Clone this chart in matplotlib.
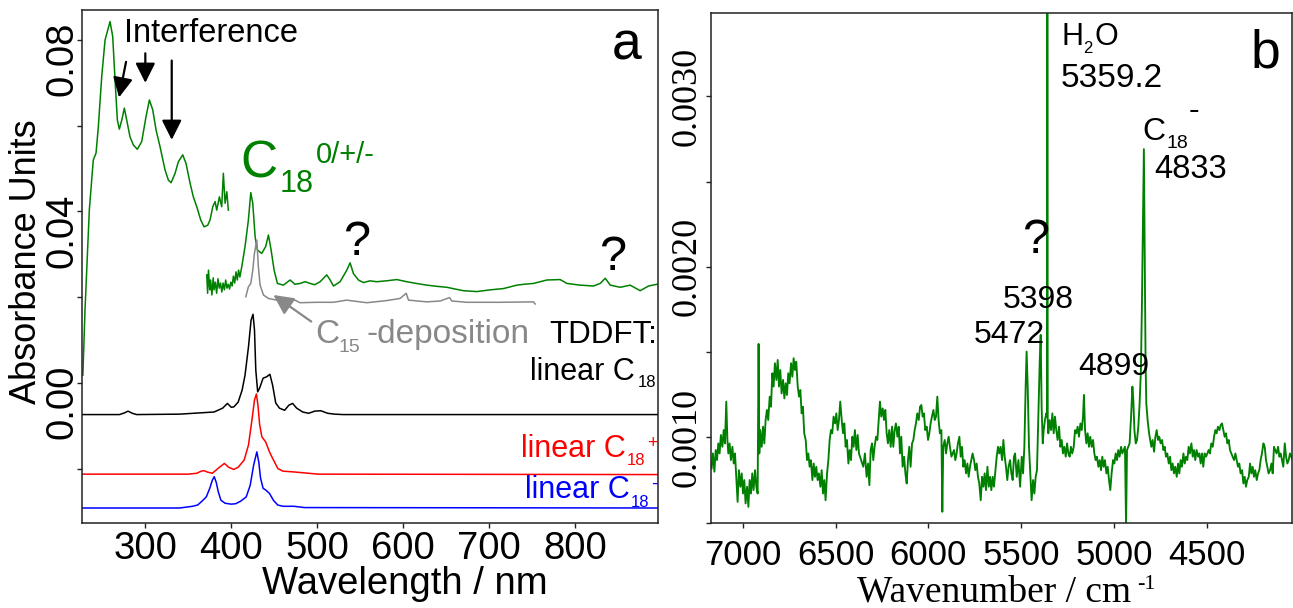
import numpy as np
import matplotlib
matplotlib.use('Agg')
import matplotlib.pyplot as plt
from matplotlib.transforms import offset_copy

SANS = 'Liberation Sans'
SERIF = 'Liberation Serif'
plt.rcParams['font.family'] = [SANS, 'DejaVu Sans']

GREEN = '#008000'
GRAY = '#888888'
RED = '#ff0000'
BLUE = '#0000ff'

# ---------------- panel a data ----------------
uv_nm = [227.5, 230, 235, 239.6, 242.8, 245.5, 249.4, 253.3, 259.1, 262.2, 264.9, 267.6, 269.9, 272.7,
         275.7, 278.5, 282.3, 286.2, 290.8, 295.9, 300.9, 304.8, 308.7, 312.6, 317.2, 323, 326.9, 330,
         334.7, 338.5, 343.6, 347.4, 352.1, 355.9, 359.9, 364.5, 368.4, 372.7, 375.3, 378.5, 381.2,
         383.1, 386.2, 388.9, 390.8, 392.8, 394.8, 396.6]
uv_abs = [0.0018, 0.0170, 0.0403, 0.0520, 0.0536, 0.0598, 0.0714, 0.0800, 0.0843, 0.0808, 0.0707,
          0.0613, 0.0592, 0.0613, 0.0641, 0.0613, 0.0574, 0.0555, 0.0545, 0.0563, 0.0621, 0.0660,
          0.0637, 0.0590, 0.0551, 0.0497, 0.0473, 0.0467, 0.0489, 0.0516, 0.0532, 0.0512, 0.0466,
          0.0434, 0.0411, 0.0380, 0.0364, 0.0368, 0.0380, 0.0411, 0.0423, 0.0403, 0.0434, 0.0411,
          0.0489, 0.0419, 0.0446, 0.0403]

vis_nm = [371.5, 372.5, 373.5, 375, 376, 377.5, 379, 380, 381.5, 383, 384.5, 386, 387.5, 389, 390.5,
          392, 393.5, 395, 396.5, 398, 399.5, 401, 402.5, 404, 405.5, 407, 408.5, 410, 412.2, 416,
          419.9, 422.7, 425, 427.7, 430.4, 435.4, 440, 443.2, 446.3, 449.8, 453.6, 460.6, 468.4, 474,
          480, 486, 491.6, 497, 503.3, 511, 514.9, 518.8, 526.5, 534.3, 538.1, 542, 547.8, 553.6, 561,
          569.1, 580, 592.4, 604, 615, 627.3, 640, 650.6, 660, 669.9, 685.5, 700.9, 716.4, 731.9, 740,
          751.3, 766.9, 782.3, 790.1, 805.6, 821, 828.8, 834.7, 840.5, 852.1, 863.7, 875.3, 885, 894.8]
vis_abs = [0.0252, 0.0209, 0.0263, 0.0217, 0.0240, 0.0205, 0.0245, 0.0217, 0.0235, 0.0209, 0.0243,
           0.0221, 0.0233, 0.0212, 0.0233, 0.0217, 0.0240, 0.0221, 0.0230, 0.0219, 0.0235, 0.0226,
           0.0249, 0.0233, 0.0259, 0.0240, 0.0263, 0.0247, 0.0271, 0.0318, 0.0380, 0.0444, 0.0419,
           0.0341, 0.0310, 0.0302, 0.0318, 0.0345, 0.0310, 0.0263, 0.0232, 0.0228, 0.0240, 0.0230,
           0.0232, 0.0236, 0.0232, 0.0229, 0.0236, 0.0252, 0.0240, 0.0226, 0.0236, 0.0263, 0.0280,
           0.0255, 0.0240, 0.0234, 0.0238, 0.0236, 0.0238, 0.0241, 0.0236, 0.0232, 0.0228, 0.0225,
           0.0223, 0.0219, 0.0215, 0.0213, 0.0217, 0.0220, 0.0228, 0.0230, 0.0232, 0.0240, 0.0241,
           0.0232, 0.0228, 0.0226, 0.0232, 0.0244, 0.0228, 0.0223, 0.0228, 0.0215, 0.0226, 0.0230]

c15_nm = [416.9, 419.9, 422.7, 425, 426.9, 429.7, 431.5, 433.5, 437.4, 443.2, 452.9, 468.4, 473, 480,
          500, 518.8, 534, 557.6, 580.8, 596.3, 603.3, 606, 627.3, 642.8, 653.7, 656.4, 673.8, 712.6,
          751.3, 753.3]
c15_abs = [0.0201, 0.0224, 0.0232, 0.0263, 0.0302, 0.0333, 0.0271, 0.0228, 0.0205, 0.0197, 0.0193,
           0.0189, 0.0194, 0.0187, 0.0188, 0.0188, 0.0193, 0.0187, 0.0192, 0.0197, 0.0209, 0.0193,
           0.0189, 0.0191, 0.0199, 0.0191, 0.0188, 0.0188, 0.0189, 0.0184]

tddft_n_nm = [227, 270, 276, 280, 285, 290, 340, 380, 390, 395.5, 400, 403, 408, 412.6, 416, 420, 423,
              425.3, 427, 428.5, 430.7, 433, 437, 441, 444.9, 448, 451.7, 456, 462, 467, 471.3, 476,
              483, 490, 497, 504, 512, 520, 530, 896]
tddft_n_abs = [-0.0074, -0.0074, -0.0070, -0.0066, -0.0071, -0.0074, -0.0073, -0.0068, -0.0059,
               -0.0048, -0.0057, -0.0056, -0.0045, -0.0017, 0.0018, 0.0084, 0.0146, 0.0160, 0.0123,
               0.0030, -0.0021, -0.0012, 0.0011, 0.0014, 0.0020, -0.0005, -0.0047, -0.0059, -0.0064,
               -0.0052, -0.0048, -0.0059, -0.0068, -0.0071, -0.0066, -0.0065, -0.0071, -0.0073,
               -0.0074, -0.0074]

tddft_p_nm = [227, 350, 360, 365, 368.5, 372, 378, 385, 392, 397, 402.8, 408, 415, 420, 424, 427,
              429.2, 431, 433, 435.6, 440, 444.4, 448, 454.2, 460, 473.7, 490, 501, 896]
tddft_p_abs = [-0.0213, -0.0213, -0.0211, -0.0206, -0.0205, -0.0208, -0.0211, -0.0199, -0.0188,
               -0.0197, -0.0202, -0.0197, -0.0180, -0.0145, -0.0087, -0.0040, -0.0026, -0.0052,
               -0.0098, -0.0126, -0.0138, -0.0161, -0.0176, -0.0200, -0.0206, -0.0208, -0.0211,
               -0.0213, -0.0214]

tddft_m_nm = [227, 340, 355, 361, 366, 371, 375, 378, 380.2, 382.5, 385, 388, 393, 400, 405.2, 411,
              417.4, 422, 426, 429.7, 432, 434, 437, 440, 444.4, 449, 454, 460, 473, 485, 896]
tddft_m_abs = [-0.0292, -0.0292, -0.0288, -0.0285, -0.0276, -0.0266, -0.0246, -0.0227, -0.0219,
               -0.0232, -0.0255, -0.0274, -0.0281, -0.0283, -0.0282, -0.0276, -0.0266, -0.0239,
               -0.0192, -0.0161, -0.0185, -0.0222, -0.0246, -0.0250, -0.0258, -0.0274, -0.0285,
               -0.0288, -0.0288, -0.0291, -0.0292]

a_xticks = [300, 400, 500, 600, 700, 800]
a_yticks = [-0.02, 0.00, 0.02, 0.04, 0.06, 0.08]
a_ylabels = ['', '0.00', '', '0.04', '', '0.08']

# ---------------- panel b data (absorbance in units of 1e-4) ----------------
b_wn = [7168, 7161, 7153, 7146, 7139, 7132, 7125, 7118, 7110, 7103,
        7096, 7089, 7083, 7078, 7071, 7064, 7056, 7049, 7042, 7035,
        7028, 7021, 7013, 7006, 6999, 6992, 6985, 6977, 6970, 6963,
        6956, 6949, 6942, 6934, 6927, 6920, 6915, 6911, 6906, 6898,
        6891, 6884, 6877, 6870, 6863, 6855, 6848, 6841, 6834, 6827,
        6819, 6812, 6805, 6798, 6791, 6783, 6776, 6769, 6762, 6755,
        6748, 6740, 6733, 6726, 6719, 6712, 6704, 6697, 6690, 6683,
        6676, 6669, 6661, 6654, 6647, 6640, 6633, 6625, 6618, 6611,
        6604, 6597, 6590, 6582, 6575, 6568, 6561, 6554, 6546, 6539,
        6532, 6525, 6518, 6511, 6503, 6496, 6489, 6482, 6475, 6467,
        6460, 6453, 6446, 6439, 6431, 6424, 6417, 6410, 6403, 6396,
        6388, 6381, 6374,
        6351, 6342, 6333, 6325, 6318, 6311, 6304, 6297, 6290, 6282,
        6275, 6268, 6261, 6254, 6246, 6239, 6232, 6225, 6218, 6211,
        6203, 6196, 6189, 6182, 6175, 6167, 6160, 6153, 6146, 6139,
        6131, 6124, 6117, 6110, 6103, 6096, 6088, 6081, 6074, 6067,
        6060, 6052, 6045, 6038, 6031, 6024, 6017, 6009, 6002, 5995,
        5988, 5981, 5973, 5966, 5959, 5952, 5945, 5938, 5930, 5925,
        5920, 5912, 5905, 5898, 5891, 5884, 5876, 5869, 5862, 5855,
        5848, 5841, 5833, 5826, 5819, 5812, 5805, 5797, 5790, 5783,
        5776, 5769, 5762, 5754, 5747, 5740, 5733, 5726, 5718, 5711,
        5704, 5697, 5690, 5682, 5675, 5668, 5661, 5654, 5647, 5639,
        5632, 5625, 5618, 5611, 5603, 5596, 5589, 5582, 5575, 5568,
        5560, 5553, 5546, 5539,
        5533, 5524, 5515, 5506, 5497, 5490, 5483, 5476, 5471, 5465,
        5458, 5451, 5444, 5436, 5429, 5422, 5415, 5408, 5400, 5395,
        5390, 5384, 5379, 5372, 5365, 5361, 5359.2, 5357, 5354, 5347,
        5339, 5332, 5325, 5318, 5311, 5304, 5296, 5289, 5282, 5275,
        5268, 5260, 5253, 5246, 5239, 5232, 5225, 5217, 5210, 5203,
        5196, 5189, 5181, 5174, 5167, 5162, 5156, 5149, 5142, 5135,
        5128, 5120, 5113, 5106, 5099, 5092, 5084, 5077, 5070, 5063,
        5056, 5049, 5041, 5034, 5027, 5020, 5013, 5005, 4998, 4991,
        4984, 4977, 4970, 4962, 4955, 4948, 4941, 4935, 4930, 4923,
        4916, 4908, 4901, 4896, 4890, 4883, 4876, 4869, 4862, 4855,
        4850, 4845, 4839, 4834, 4830, 4826, 4819, 4811,
        4799, 4792, 4784, 4777, 4770, 4763, 4756, 4749, 4741, 4734,
        4727, 4720, 4713, 4705, 4698, 4691, 4684, 4677, 4670, 4662,
        4655, 4648, 4641, 4634, 4626, 4619, 4612, 4605, 4598, 4591,
        4583, 4576, 4569, 4562, 4555, 4547, 4540, 4533, 4526, 4519,
        4512, 4504, 4497, 4490, 4483, 4476, 4468, 4461, 4454, 4447,
        4440, 4432, 4425, 4418, 4411, 4404, 4397, 4389, 4382, 4375,
        4368, 4361, 4353, 4346, 4339, 4332, 4325, 4318, 4310, 4303,
        4296, 4289, 4282, 4274, 4267, 4260, 4253, 4246, 4239, 4231,
        4224, 4217, 4210, 4203, 4195, 4188, 4181, 4174, 4167, 4159,
        4152, 4145, 4138, 4131, 4124, 4116, 4109, 4102, 4095, 4088,
        4080, 4073, 4066, 4059, 4052, 4045, 4037]
b_abs_e4 = [8.18, 9.06, 7.99, 9.26, 8.67, 9.65, 9.06, 10.14, 9.45, 10.43,
            9.65, 12.10, 9.85, 9.06, 9.65, 8.67, 9.45, 8.47, 9.06, 7.69,
            6.22, 8.08, 7.11, 7.89, 6.71, 7.50, 6.13, 7.11, 5.93, 7.50,
            6.71, 7.89, 6.91, 8.08, 7.11, 6.71, 15.48, 9.06, 10.43, 9.45,
            10.63, 9.65, 11.02, 11.61, 11.02, 12.39, 11.80, 13.76, 12.98, 14.35,
            13.37, 14.54, 12.98, 13.95, 12.58, 13.37, 12.29, 13.17, 12.49, 13.76,
            13.17, 14.35, 13.56, 14.64, 13.95, 14.44, 12.98, 12.39, 12.78, 11.41,
            11.80, 10.24, 9.85, 8.67, 9.06, 8.28, 8.67, 7.50, 8.47, 7.69,
            8.28, 7.50, 7.89, 7.11, 8.08, 6.71, 7.50, 6.32, 7.89, 8.67,
            9.85, 10.43, 10.24, 11.22, 10.82, 11.41, 10.43, 11.02, 12.10, 11.02,
            10.24, 10.82, 9.45, 9.85, 8.47, 9.26, 8.67, 10.04, 9.45, 10.43,
            9.26, 10.14, 9.06,
            8.28, 9.06, 7.69, 8.47, 7.20, 9.26, 9.65, 8.67, 9.45, 10.04,
            9.85, 11.02, 12.10, 11.22, 11.70, 11.02, 11.61, 10.24, 9.65, 10.43,
            9.45, 10.63, 9.45, 10.43, 10.82, 10.04, 10.63, 9.06, 10.04, 8.28,
            8.87, 7.89, 7.30, 8.67, 9.45, 8.28, 9.65, 9.85, 10.43, 10.82,
            11.41, 11.02, 11.80, 11.90, 11.22, 11.41, 10.43, 10.63, 9.85, 10.24,
            10.82, 11.22, 11.61, 11.02, 11.22, 12.39, 11.02, 10.24, 10.43, 5.64,
            9.45, 9.85, 9.06, 9.65, 10.04, 9.45, 8.87, 9.06, 9.26, 8.67,
            9.06, 9.65, 10.04, 8.87, 9.45, 8.28, 8.67, 7.89, 8.47, 7.69,
            8.28, 8.67, 9.06, 8.67, 8.08, 8.47, 7.69, 7.30, 6.32, 7.69,
            7.11, 7.89, 6.91, 8.28, 7.11, 7.69, 6.91, 7.69, 7.11, 8.08,
            8.87, 9.45, 9.06, 9.45, 8.67, 9.85, 8.87, 8.28, 7.50, 8.28,
            8.67, 7.89, 7.50, 8.87,
            9.06, 7.69, 8.67, 7.11, 8.87, 7.89, 9.45, 12.98, 15.03, 12.98,
            9.45, 7.89, 6.32, 7.50, 6.71, 7.69, 8.08, 11.02, 14.54, 16.01,
            11.80, 9.65, 10.43, 11.02, 11.41, 11.20, 40.0, 11.00, 10.24, 11.02,
            10.43, 11.41, 10.24, 11.22, 10.43, 9.85, 10.63, 9.45, 9.85, 9.06,
            9.45, 8.87, 9.65, 9.06, 8.87, 9.45, 9.06, 9.45, 10.43, 10.24,
            10.63, 10.04, 10.82, 10.43, 11.22, 12.49, 10.43, 9.65, 10.24, 9.45,
            10.04, 9.45, 9.85, 9.06, 8.67, 8.87, 8.28, 8.67, 8.08, 8.87,
            8.28, 8.67, 7.89, 8.28, 7.50, 6.91, 7.89, 8.67, 8.47, 9.06,
            8.67, 9.26, 8.87, 9.45, 9.06, 9.26, 9.45, 4.80, 9.26, 9.45,
            9.65, 11.22, 12.98, 12.19, 10.43, 9.65, 9.85, 10.63, 12.00, 13.95,
            17.5, 22.0, 26.9, 20.0, 14.5, 12.00, 11.02, 10.24,
            9.45, 9.85, 9.16, 10.04, 10.43, 9.85, 10.04, 9.65, 9.85, 9.26,
            9.45, 8.87, 9.06, 8.47, 8.87, 8.08, 8.47, 7.89, 8.28, 7.69,
            8.47, 7.89, 8.67, 8.28, 9.06, 8.47, 8.87, 8.67, 9.45, 9.06,
            9.65, 8.87, 9.26, 8.67, 9.26, 8.87, 9.06, 8.47, 9.06, 8.28,
            9.06, 8.87, 9.06, 9.26, 9.06, 9.65, 9.45, 10.04, 10.43, 10.24,
            10.63, 10.43, 10.73, 10.82, 10.43, 10.04, 10.24, 9.65, 9.85, 9.26,
            9.06, 8.87, 8.67, 9.06, 8.67, 8.28, 8.47, 7.89, 8.08, 7.30,
            7.69, 7.11, 7.50, 7.69, 8.47, 7.89, 8.28, 7.69, 8.08, 7.50,
            7.89, 8.08, 8.67, 9.06, 9.65, 9.45, 8.67, 8.28, 7.89, 8.08,
            8.47, 7.89, 9.45, 9.26, 9.06, 9.45, 8.87, 9.06, 8.67, 8.28,
            9.65, 8.87, 8.47, 8.67, 9.06, 8.87, 8.67]

b_xticks = [7000, 6500, 6000, 5500, 5000, 4500]
b_yticks = [0.0005, 0.0010, 0.0015, 0.0020, 0.0025, 0.0030]
b_ylabels = ['', '0.0010', '', '0.0020', '', '0.0030']

# ---------------- figure ----------------
W, H = 1293, 608
fig = plt.figure(figsize=(W / 100, H / 100), dpi=100)


def txt(x, y, s, size, color='black', family=SANS, ha='left', va='baseline', rot=0):
    fig.text(x / W, 1 - y / H, s, fontsize=size, color=color, family=family,
             ha=ha, va=va, rotation=rot)


def style(ax):
    for sp in ax.spines.values():
        sp.set_linewidth(1.1)
        sp.set_color('#222222')
    ax.tick_params(direction='out', length=3.8, width=1.0, color='#222222')


axa = fig.add_axes([82 / W, 1 - 523 / H, (658 - 82) / W, (523 - 10) / H])
axb = fig.add_axes([710.5 / W, 1 - 522.7 / H, (1292 - 710.5) / W, (522.7 - 12.7) / H])
style(axa)
style(axb)

# panel a curves
axa.plot(uv_nm, uv_abs, color=GREEN, lw=1.1)
axa.plot(vis_nm, vis_abs, color=GREEN, lw=1.1)
axa.plot(c15_nm, c15_abs, color=GRAY, lw=1.1)
axa.plot(tddft_n_nm, tddft_n_abs, color='black', lw=1.1)
axa.plot(tddft_p_nm, tddft_p_abs, color=RED, lw=1.1)
axa.plot(tddft_m_nm, tddft_m_abs, color=BLUE, lw=1.1)
axa.set_xlim(226.5, 896)
axa.set_ylim(-0.0327, 0.087)
axa.set_xticks(a_xticks)
axa.set_xticklabels([str(v) for v in a_xticks], fontsize=27.5)
axa.tick_params(axis='x', pad=2)
axa.set_yticks(a_yticks)
axa.set_yticklabels([])
ytr = offset_copy(axa.get_yaxis_transform(), fig=fig, x=-2, y=-19, units='dots')
for v, s in zip(a_yticks, a_ylabels):
    if s:
        axa.text(0.0, v, s, transform=ytr, rotation=90, ha='right', va='center', fontsize=27.5)

# arrows
arrow_kw = dict(arrowstyle='-|>,head_length=0.6,head_width=0.3', color='black', lw=1.6,
                mutation_scale=20, shrinkA=0, shrinkB=0)
axa.annotate('', xy=(269.5, 0.0666), xytext=(277.7, 0.0749), arrowprops=arrow_kw)
axa.annotate('', xy=(300.1, 0.0700), xytext=(300.1, 0.0769), arrowprops=arrow_kw)
axa.annotate('', xy=(330.8, 0.0567), xytext=(330.8, 0.0752), arrowprops=arrow_kw)
gray_kw = dict(arrow_kw, color=GRAY)
axa.annotate('', xy=(449.0, 0.0205), xytext=(493.0, 0.0143), arrowprops=gray_kw)

# panel a texts
txt(124, 42, 'Interference', 23.5)
txt(612, 60, 'a', 38.5)
txt(240, 178, 'C', 37, GREEN)
txt(280, 192, '18', 22, GREEN)
txt(316, 163, '0/+/-', 21, GREEN)
txt(343, 255, '?', 35)
txt(599, 270, '?', 35)
txt(315, 343, 'C', 24, GRAY)
txt(338, 352, '15', 14, GRAY)
txt(366, 343, '-deposition', 24, GRAY)
txt(657, 343, 'TDDFT:', 22.5, ha='right')
txt(635, 380, 'linear C', 22, ha='right')
txt(638, 387, '18', 12)
txt(626, 457, 'linear C', 22, RED, ha='right')
txt(627, 465, '18', 12, RED)
txt(647, 448.5, '+', 13, RED)
txt(630, 498, 'linear C', 22, BLUE, ha='right')
txt(631, 507, '18', 12, BLUE)
txt(651, 489, '-', 14, BLUE)
txt(405, 594, 'Wavelength / nm', 27.5, ha='center')
txt(27, 262, 'Absorbance Units', 26, ha='center', va='center', rot=90)

# panel b
axb.plot(b_wn, np.array(b_abs_e4) * 1e-4, color=GREEN, lw=1.35)
axb.set_xlim(7174, 4041)
axb.set_ylim(0.0005, 0.00349)
axb.set_xticks(b_xticks)
axb.set_xticklabels([str(v) for v in b_xticks], fontsize=25)
axb.tick_params(axis='x', pad=8)
axb.set_yticks(b_yticks)
axb.set_yticklabels(b_ylabels, rotation=90, va='center', fontsize=26, family=SERIF)
axb.tick_params(axis='y', pad=1)

txt(1061, 45, 'H', 22)
txt(1083, 53, '2', 12)
txt(1095, 45, 'O', 22)
txt(1061, 86.7, '5359.2', 24)
txt(1251, 68, 'b', 38.5)
txt(1142, 140, 'C', 23)
txt(1166, 148, '18', 14)
txt(1189, 119, '-', 23)
txt(1154, 178, '4833', 23.5)
txt(1022, 253, '?', 35)
txt(1003, 308, '5398', 23)
txt(974, 343, '5472', 23)
txt(1078, 375, '4899', 23)
txt(857, 601, 'Wavenumber / cm', 27, family=SERIF)
txt(1137, 589, '-1', 16, family=SERIF)

fig.savefig('out.png', dpi=100)
